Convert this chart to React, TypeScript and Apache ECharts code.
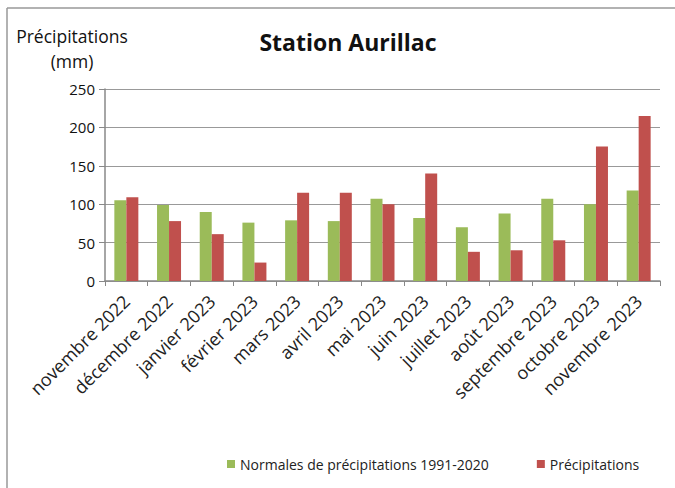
import React, { useEffect, useRef } from "react";
import * as echarts from "echarts";

const categories = [
  "novembre 2022", "décembre 2022", "janvier 2023", "février 2023", "mars 2023",
  "avril 2023", "mai 2023", "juin 2023", "juillet 2023", "août 2023",
  "septembre 2023", "octobre 2023", "novembre 2023",
];
const normales = [105, 99, 90, 76, 79, 78, 107, 82, 70, 88, 107, 100, 118];
const precipitations = [109, 78, 61, 24, 115, 115, 100, 140, 38, 40, 53, 175, 215];
const yTicks = [0, 50, 100, 150, 200, 250];

const FONT = "'Open Sans', 'Liberation Sans', sans-serif";

export default function App() {
  const ref = useRef<HTMLDivElement>(null);
  useEffect(() => {
    document.body.style.margin = "0";
    const chart = echarts.init(ref.current!, null, { renderer: "svg" });
    chart.setOption({
      animation: false,
      backgroundColor: "#ffffff",
      title: {
        text: "Station Aurillac",
        left: 343,
        top: 25,
        textAlign: "center",
        textStyle: { fontFamily: FONT, fontSize: 23, fontWeight: "bold", color: "#111" },
      },
      legend: {
        top: 452,
        left: 222,
        itemWidth: 8,
        itemHeight: 8,
        itemGap: 48,
        icon: "rect",
        textStyle: { fontFamily: FONT, fontSize: 14, color: "#222" },
        data: ["Normales de précipitations 1991-2020", "Précipitations"],
      },
      graphic: [
        { type: "line", shape: { x1: 7, y1: 8, x2: 675, y2: 8 }, style: { stroke: "#999", lineWidth: 1.5 } },
        { type: "line", shape: { x1: 7, y1: 8, x2: 7, y2: 488 }, style: { stroke: "#999", lineWidth: 1.5 } },
        {
          type: "text",
          x: 72,
          y: 23,
          style: {
            text: "Précipitations\n(mm)",
            fontFamily: FONT,
            fontSize: 17.5,
            fill: "#111",
            align: "center",
            lineHeight: 25,
          },
        },
      ],
      grid: { left: 105, right: 15, top: 89, bottom: 207, containLabel: false },
      xAxis: {
        type: "category",
        data: categories,
        boundaryGap: true,
        axisLine: { lineStyle: { color: "#888", width: 1.5 } },
        axisTick: { show: true, length: 5, alignWithLabel: false, lineStyle: { color: "#888" } },
        axisLabel: {
          rotate: 45,
          interval: 0,
          fontFamily: FONT,
          fontSize: 18,
          color: "#222",
          margin: 17,
        },
      },
      yAxis: {
        type: "value",
        min: yTicks[0],
        max: yTicks[yTicks.length - 1],
        interval: 50,
        axisLine: { show: true, lineStyle: { color: "#888", width: 1.5 } },
        axisTick: { show: true, length: 6, lineStyle: { color: "#888" } },
        splitLine: { lineStyle: { color: "#999", width: 1.2 } },
        axisLabel: { fontFamily: FONT, fontSize: 15, color: "#111", margin: 10 },
      },
      series: [
        {
          name: "Normales de précipitations 1991-2020",
          type: "bar",
          data: normales,
          barWidth: 12,
          barGap: "0%",
          itemStyle: { color: "#9BBB59" },
        },
        {
          name: "Précipitations",
          type: "bar",
          data: precipitations,
          barWidth: 12,
          barGap: "0%",
          itemStyle: { color: "#C0504D" },
        },
      ],
    });
    return () => chart.dispose();
  }, []);
  return <div ref={ref} style={{ position: "absolute", left: 0, top: 0, width: 675, height: 488 }} />;
}
